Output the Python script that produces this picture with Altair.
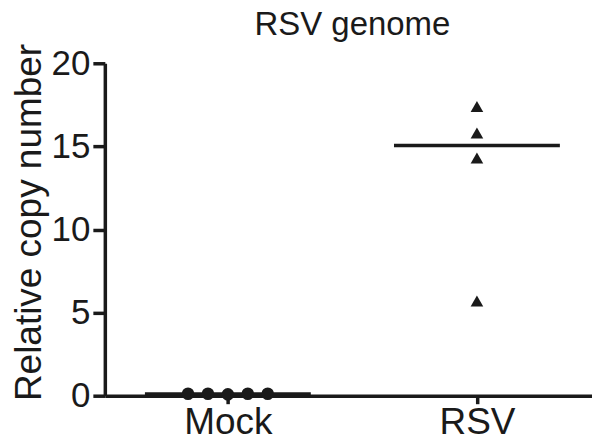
import altair as alt
import pandas as pd

# Data
mock_x = [0.84, 0.92, 1.0, 1.08, 1.16]
mock_values = [0.12, 0.12, 0.08, 0.12, 0.12]
rsv_x = [2.0, 2.0, 2.0, 2.0]
rsv_values = [17.4, 15.8, 14.3, 5.7]
group_names = ["Mock", "RSV"]
group_pos = [1, 2]
median_values = [0.1, 15.05]
median_halfwidth = 0.333

pts_mock = pd.DataFrame({"x": mock_x, "y": mock_values, "group": "Mock"})
pts_rsv = pd.DataFrame({"x": rsv_x, "y": rsv_values, "group": "RSV"})
med = pd.DataFrame({
    "group": group_names,
    "x": [p - median_halfwidth for p in group_pos],
    "x2": [p + median_halfwidth for p in group_pos],
    "y": median_values,
})

FONT = "Liberation Sans"

xscale = alt.Scale(domain=[0.506, 2.462], nice=False, zero=False)
yscale = alt.Scale(domain=[0, 20], nice=False)

xaxis = alt.Axis(
    values=group_pos,
    labelExpr="datum.value == 1 ? 'Mock' : 'RSV'",
    title=None, grid=False,
    domainColor="#1a1a1a", domainWidth=3.5,
    tickColor="#1a1a1a", tickWidth=3.5, tickSize=8,
    labelFont=FONT, labelFontSize=37, labelColor="#1a1a1a", labelPadding=1,
)
yaxis = alt.Axis(
    values=[0, 5, 10, 15, 20],
    title="Relative copy number", grid=False,
    domainColor="#1a1a1a", domainWidth=3.5,
    tickColor="#1a1a1a", tickWidth=3.5, tickSize=12,
    labelFont=FONT, labelFontSize=35, labelColor="#1a1a1a", labelPadding=3,
    titleFont=FONT, titleFontSize=37, titleFontWeight="normal", titleColor="#1a1a1a",
    titleX=-75, titleY=159, titleAngle=-90, titleAlign="center", titleBaseline="middle",
)

medians = alt.Chart(med).mark_rule(color="#1a1a1a", strokeWidth=3.5).encode(
    x=alt.X("x:Q", scale=xscale, axis=xaxis),
    x2="x2:Q",
    y=alt.Y("y:Q", scale=yscale, axis=yaxis),
)

circles = alt.Chart(pts_mock).mark_point(
    shape="circle", filled=True, color="#1a1a1a", size=160, opacity=1
).encode(x=alt.X("x:Q", scale=xscale), y=alt.Y("y:Q", scale=yscale))

triangles = alt.Chart(pts_rsv).mark_point(
    shape="triangle-up", filled=True, color="#1a1a1a", size=160, opacity=1
).encode(x=alt.X("x:Q", scale=xscale), y=alt.Y("y:Q", scale=yscale))

chart = alt.layer(medians, circles, triangles).properties(
    width=488, height=333,
    autosize=alt.AutoSizeParams(type="none"),
    padding={"left": 97, "top": 55, "right": 0, "bottom": 45},
    title=alt.TitleParams(
        "RSV genome", font=FONT, fontSize=33, fontWeight="normal",
        color="#1a1a1a", anchor="middle", frame="group", offset=1, dx=4,
    ),
).configure_view(stroke=None)

chart.save("out.html", embed_options={"renderer": "svg", "actions": False})
